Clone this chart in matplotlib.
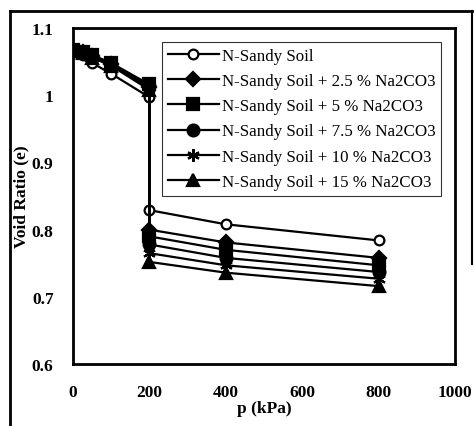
import matplotlib
matplotlib.use('Agg')
import matplotlib.pyplot as plt
from matplotlib.lines import Line2D

# pressure steps (kPa); the repeated 200 is the soaking (collapse) step
pressure = [0, 25, 50, 100, 200, 200, 400, 800]

labels = ['N-Sandy Soil',
          'N-Sandy Soil + 2.5 % Na2CO3',
          'N-Sandy Soil + 5 % Na2CO3',
          'N-Sandy Soil + 7.5 % Na2CO3',
          'N-Sandy Soil + 10 % Na2CO3',
          'N-Sandy Soil + 15 % Na2CO3']

e_natural = [1.065, 1.060, 1.048, 1.032, 0.997, 0.829, 0.808, 0.784]
e_2_5 = [1.067, 1.064, 1.058, 1.047, 1.012, 0.800, 0.781, 0.758]
e_5 = [1.067, 1.065, 1.060, 1.048, 1.016, 0.790, 0.770, 0.747]
e_7_5 = [1.066, 1.064, 1.058, 1.046, 1.014, 0.778, 0.758, 0.737]
e_10 = [1.066, 1.063, 1.057, 1.045, 1.010, 0.765, 0.747, 0.727]
e_15 = [1.066, 1.063, 1.056, 1.044, 1.008, 0.752, 0.736, 0.716]

series = [e_natural, e_2_5, e_5, e_7_5, e_10, e_15]
markers = ['o', 'D', 's', 'o', (6, 2, 0), '^']
msizes = [7, 7, 8, 8.5, 9, 8.5]

plt.rcParams['font.family'] = 'Liberation Serif'

fig = plt.figure(figsize=(4.74, 4.27), dpi=100)
ax = fig.add_axes([0.154, 0.145, 0.806, 0.787])

for i in range(len(series)):
    face = 'white' if i == 0 else 'black'
    ax.plot(pressure, series[i], color='black', lw=1.6,
            marker=markers[i], markersize=msizes[i],
            markerfacecolor=face, markeredgecolor='black',
            markeredgewidth=1.6, label=labels[i])

ax.set_xlim(0, 1000)
ax.set_ylim(0.6, 1.1)
ax.set_xticks([0, 200, 400, 600, 800, 1000])
ax.set_yticks([0.6, 0.7, 0.8, 0.9, 1.0, 1.1])
ax.set_yticklabels(['0.6', '0.7', '0.8', '0.9', '1', '1.1'])
ax.tick_params(length=0, pad=14, labelsize=12.5)
for t in ax.get_xticklabels() + ax.get_yticklabels():
    t.set_fontweight('bold')

for s in ax.spines.values():
    s.set_linewidth(2)

ax.set_xlabel('p (kPa)', fontsize=12.5, fontweight='bold', labelpad=0)
ax.set_ylabel('Void Ratio (e)', fontsize=12.5, fontweight='bold', labelpad=2)

leg = ax.legend(loc='upper right', fontsize=12.2, frameon=True, fancybox=False,
                edgecolor='black', handlelength=3, borderaxespad=0.8,
                labelspacing=0.55, handletextpad=0.2, borderpad=0.35)
leg.get_frame().set_linewidth(0.8)

# outer border of the scanned figure (left, top and upper part of right side)
fig.lines.append(Line2D([0.021, 0.021], [0.0, 0.972], transform=fig.transFigure,
                        color='black', lw=2))
fig.lines.append(Line2D([0.021, 0.996], [0.972, 0.972], transform=fig.transFigure,
                        color='black', lw=2))
fig.lines.append(Line2D([0.996, 0.996], [0.972, 0.38], transform=fig.transFigure,
                        color='black', lw=1.5))

fig.savefig('out.png', dpi=100)
